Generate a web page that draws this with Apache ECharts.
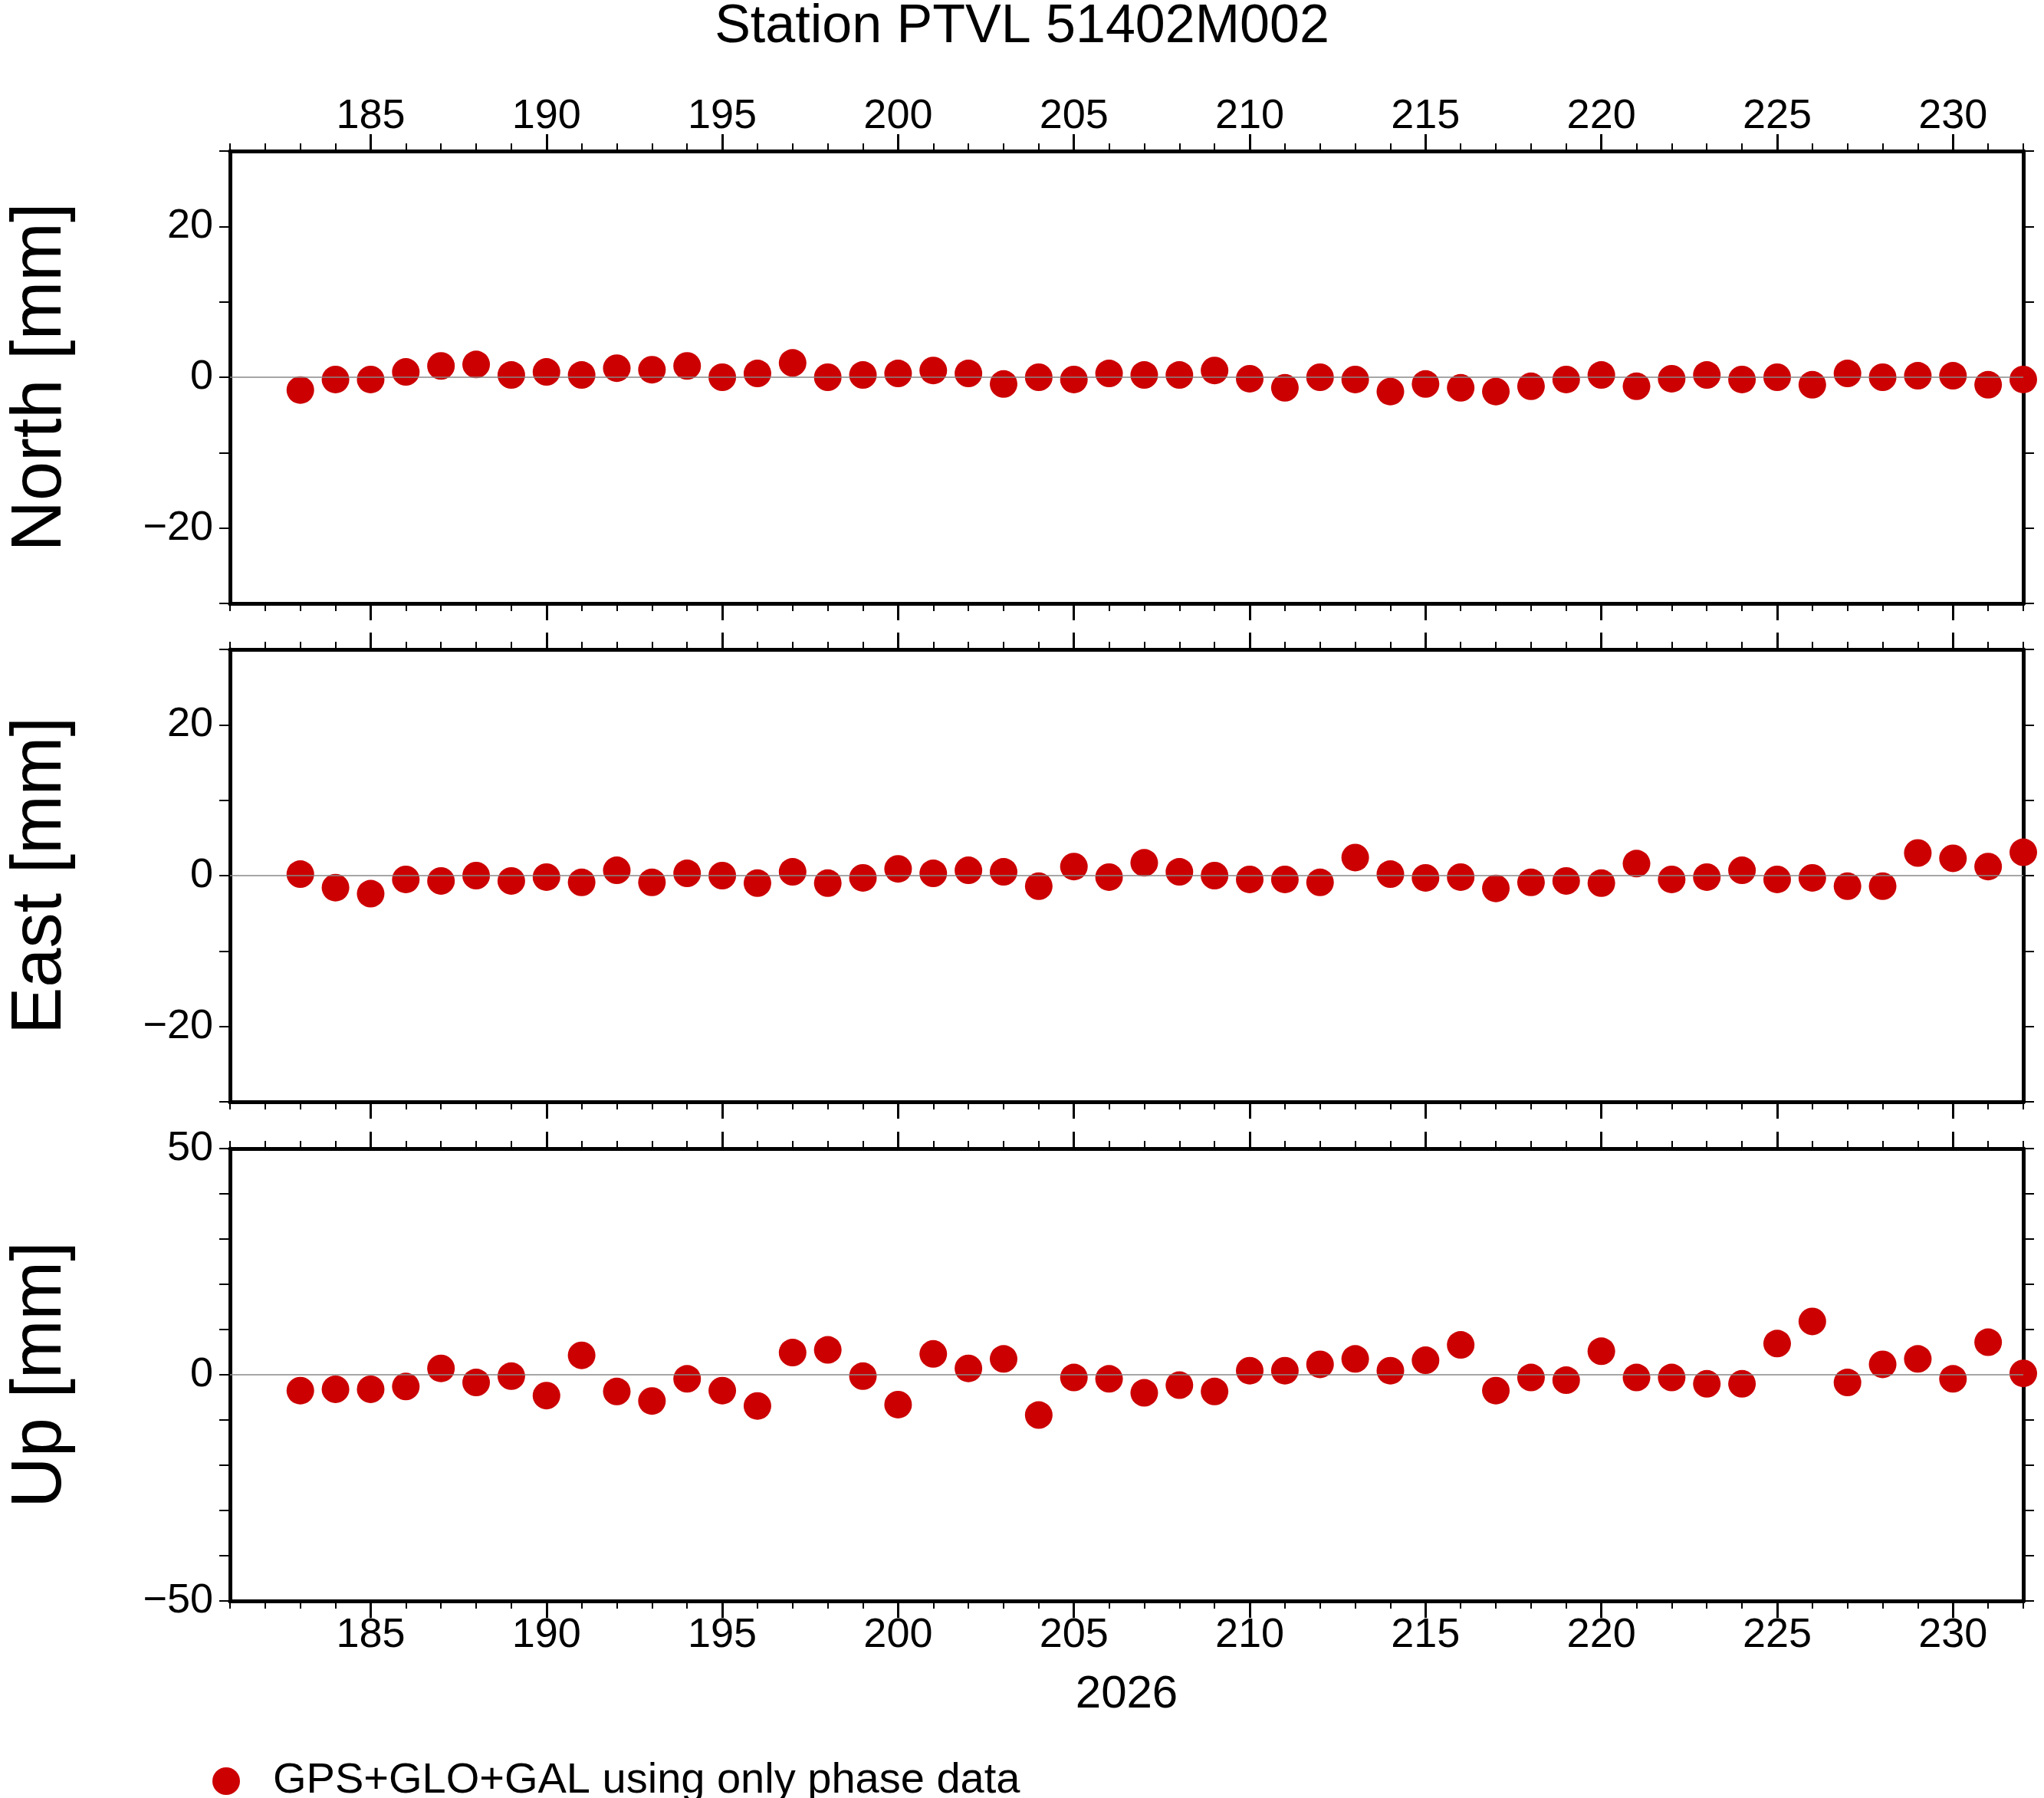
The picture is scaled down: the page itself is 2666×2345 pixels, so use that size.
<!DOCTYPE html>
<html><head><meta charset="utf-8">
<script src="https://cdn.jsdelivr.net/npm/echarts@6/dist/echarts.min.js"></script>
<style>html,body{margin:0;background:#fff}#c{width:2666px;height:2345px}</style>
</head><body><div id="c"></div>
<script>
const days = [];
for (let d = 183; d <= 232; d++) days.push(d);
const north = [-1.7,-0.3,-0.3,0.7,1.5,1.7,0.3,0.7,0.3,1.2,1.0,1.5,0,0.5,1.9,0,0.3,0.5,0.9,0.5,
  -0.9,0,-0.3,0.5,0.3,0.3,0.9,-0.2,-1.4,0,-0.3,-1.9,-0.9,-1.4,-1.9,-1.2,-0.3,0.3,-1.2,-0.2,
  0.3,-0.3,0,-1.0,0.5,0,0.2,0.2,-1.0,-0.3];
const east = [0.2,-1.6,-2.4,-0.5,-0.7,0,-0.7,-0.2,-0.9,0.7,-0.9,0.3,0,-1.0,0.5,-1.0,-0.3,0.9,0.3,0.7,
  0.5,-1.4,1.2,-0.2,1.7,0.5,0,-0.5,-0.5,-0.9,2.4,0.2,-0.3,-0.2,-1.7,-0.9,-0.7,-1.0,1.6,-0.5,
  -0.2,0.7,-0.5,-0.3,-1.4,-1.4,3.0,2.3,1.2,3.1];
const up = [-3.5,-3.2,-3.2,-2.6,1.4,-1.7,-0.3,-4.6,4.3,-3.7,-5.8,-0.9,-3.5,-6.9,4.9,5.5,-0.3,-6.6,4.6,1.4,
  3.5,-8.9,-0.6,-0.9,-4.0,-2.3,-3.7,0.9,0.9,2.3,3.5,0.9,3.2,6.6,-3.5,-0.6,-1.2,5.2,-0.6,-0.6,
  -2.0,-2.0,6.9,11.8,-1.7,2.3,3.5,-0.9,7.2,0.3];
const xMajor = [185,190,195,200,205,210,215,220,225,230];
const panels = [
  {name:'North [mm]', data:north, min:-30, max:30, labels:[-20,0,20]},
  {name:'East [mm]', data:east, min:-30, max:30, labels:[-20,0,20]},
  {name:'Up [mm]', data:up, min:-50, max:50, labels:[-50,0,50]}
];
const tops = [197, 847, 1498];
const H = 590;
const font = 'Liberation Sans, Arial, sans-serif';
const line = {show:true, onZero:false, lineStyle:{color:'#000', width:5}};
const grid = [], xAxis = [], yAxis = [], series = [];
panels.forEach((p, i) => {
  grid.push({left:277, width:2362, top:tops[i], height:H});
  ['bottom','top'].forEach(pos => {
    const showLab = (pos === 'top' && i === 0) || (pos === 'bottom' && i === 2);
    xAxis.push({type:'value', gridIndex:i, position:pos, min:181, max:232, interval:1,
      axisLine:line, axisTick:{length:10, lineStyle:{color:'#000', width:2}},
      axisLabel:{show:false}, splitLine:{show:false}});
    xAxis.push({type:'value', gridIndex:i, position:pos, min:181, max:232, interval:1,
      axisLine:line,
      axisTick:{length:22, customValues:xMajor, lineStyle:{color:'#000', width:3}},
      axisLabel:{show:showLab, customValues:xMajor, fontSize:54, color:'#000', fontFamily:font, margin:18},
      splitLine:{show:false},
      name:(pos === 'bottom' && i === 2) ? '2026' : '', nameLocation:'middle', nameGap:92,
      nameTextStyle:{fontSize:60, color:'#000', fontFamily:font}});
  });
  yAxis.push({type:'value', gridIndex:i, position:'left', min:p.min, max:p.max, interval:10,
    axisLine:line, axisTick:{length:14, lineStyle:{color:'#000', width:2}},
    axisLabel:{customValues:p.labels, fontSize:54, color:'#000', fontFamily:font, margin:22,
      formatter:v => String(v).replace('-', '\u2212')},
    splitLine:{show:false},
    name:p.name, nameLocation:'middle', nameGap:200, nameRotate:90,
    nameTextStyle:{fontSize:92, color:'#000', fontFamily:font}});
  yAxis.push({type:'value', gridIndex:i, position:'right', min:p.min, max:p.max, interval:10,
    axisLine:line, axisTick:{length:14, lineStyle:{color:'#000', width:2}},
    axisLabel:{show:false}, splitLine:{show:false}});
  series.push({type:'scatter', name:'GPS+GLO+GAL using only phase data',
    xAxisIndex:i*4, yAxisIndex:i*2, symbolSize:36, itemStyle:{color:'#cc0000', opacity:1},
    data:days.map((d, k) => [d, p.data[k]]),
    markLine:{silent:true, symbol:'none', label:{show:false},
      lineStyle:{color:'#888', width:1.5, type:'solid'}, data:[{yAxis:0}]}});
});
const chart = echarts.init(document.getElementById('c'));
chart.setOption({
  animation:false, backgroundColor:'#fff',
  title:{text:'Station PTVL 51402M002', left:'center', top:-4,
    textStyle:{fontSize:70, fontWeight:'normal', color:'#000', fontFamily:font}},
  legend:{left:272, top:2290, icon:'circle', itemWidth:36, itemHeight:36, itemGap:20,
    textStyle:{fontSize:56, color:'#000', fontFamily:font, padding:[0,0,0,38]},
    data:['GPS+GLO+GAL using only phase data']},
  grid, xAxis, yAxis, series
});
</script></body></html>
